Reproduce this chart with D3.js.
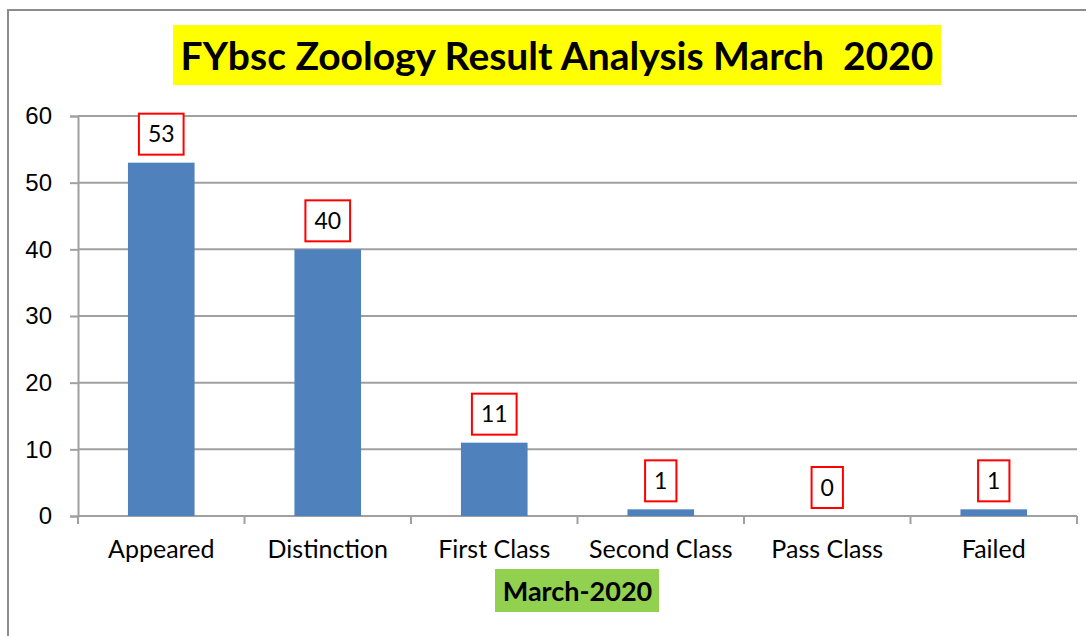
<!DOCTYPE html>
<html>
<head>
<meta charset="utf-8">
<script src="https://cdn.jsdelivr.net/npm/d3@7"></script>
<style>
  body { margin: 0; background: #fff; }
  svg { display: block; font-family: Lato, "Open Sans", sans-serif; }
</style>
</head>
<body>
<svg id="chart" width="1086" height="636"></svg>
<script>
// chart data
const categories = ["Appeared", "Distinction", "First Class", "Second Class", "Pass Class", "Failed"];
const counts = [53, 40, 11, 1, 0, 1];
const yTicks = [0, 10, 20, 30, 40, 50, 60];
const chartTitle = "FYbsc Zoology Result Analysis March\u00a0 2020";
const xTitle = "March-2020";

const data = categories.map((c, i) => ({ cat: c, value: counts[i] }));

const svg = d3.select("#chart");
const plot = { left: 78, right: 1077, top: 116, bottom: 516 };

// outer chart border (left and top edges visible)
svg.append("path")
  .attr("d", "M8,636 L8,10 L1086,10")
  .attr("fill", "none")
  .attr("stroke", "#8c8c8c")
  .attr("stroke-width", 2);

const x = d3.scaleBand()
  .domain(categories)
  .range([plot.left, plot.right])
  .paddingInner(0.6)
  .paddingOuter(0.3);

const y = d3.scaleLinear()
  .domain([0, 60])
  .range([plot.bottom, plot.top]);

// gridlines
svg.append("g")
  .selectAll("line")
  .data(yTicks.filter(d => d > 0))
  .join("line")
  .attr("x1", plot.left)
  .attr("x2", plot.right)
  .attr("y1", d => y(d))
  .attr("y2", d => y(d))
  .attr("stroke", "#a0a0a0")
  .attr("stroke-width", 2);

// y axis
const yAxis = svg.append("g")
  .attr("transform", `translate(${plot.left},0)`)
  .call(d3.axisLeft(y).tickValues(yTicks).tickSize(8).tickPadding(18));
yAxis.select(".domain").attr("stroke", "#a0a0a0").attr("stroke-width", 2);
yAxis.selectAll(".tick line").attr("stroke", "#a0a0a0").attr("stroke-width", 2);
yAxis.selectAll(".tick text")
  .attr("fill", "#000")
  .style("font-size", "24px");

// x axis line and tick marks between categories
const step = x.step();
const bounds = categories.map(c => x(c) - step * x.paddingOuter());
bounds.push(plot.right);

svg.append("line")
  .attr("x1", plot.left)
  .attr("x2", plot.right)
  .attr("y1", y(0))
  .attr("y2", y(0))
  .attr("stroke", "#a0a0a0")
  .attr("stroke-width", 2);

svg.append("g")
  .selectAll("line")
  .data(bounds)
  .join("line")
  .attr("x1", d => d)
  .attr("x2", d => d)
  .attr("y1", y(0))
  .attr("y2", y(0) + 8)
  .attr("stroke", "#a0a0a0")
  .attr("stroke-width", 2);

// category labels
svg.append("g")
  .selectAll("text")
  .data(categories)
  .join("text")
  .attr("x", d => x(d) + x.bandwidth() / 2)
  .attr("y", 558)
  .attr("text-anchor", "middle")
  .style("font-size", "25px")
  .text(d => d);

// bars
svg.append("g")
  .selectAll("rect")
  .data(data)
  .join("rect")
  .attr("x", d => x(d.cat))
  .attr("y", d => y(d.value))
  .attr("width", x.bandwidth())
  .attr("height", d => y(0) - y(d.value))
  .attr("fill", "#4f81bd");

// value labels in red boxes
const labels = svg.append("g")
  .selectAll("g")
  .data(data)
  .join("g")
  .attr("transform", d => `translate(${x(d.cat) + x.bandwidth() / 2},${y(d.value) - 8})`);

labels.append("rect").attr("class", "box");
labels.append("text")
  .attr("text-anchor", "middle")
  .attr("y", -20.5)
  .attr("dy", "0.36em")
  .style("font-size", "23px")
  .text(d => d.value);

labels.each(function() {
  const g = d3.select(this);
  const w = g.select("text").node().getComputedTextLength() + 18;
  g.select("rect")
    .attr("x", -w / 2)
    .attr("y", -41)
    .attr("width", w)
    .attr("height", 41)
    .attr("fill", "#fff")
    .attr("stroke", "#ff0000")
    .attr("stroke-width", 2);
});

// chart title
svg.append("rect")
  .attr("x", 173).attr("y", 25)
  .attr("width", 768).attr("height", 60)
  .attr("fill", "#ffff00");
svg.append("text")
  .attr("x", 557).attr("y", 70)
  .attr("text-anchor", "middle")
  .style("font-size", "39px")
  .style("font-weight", "bold")
  .text(chartTitle);

// axis title
svg.append("rect")
  .attr("x", 495).attr("y", 569)
  .attr("width", 164).attr("height", 43)
  .attr("fill", "#92d050");
svg.append("text")
  .attr("x", (plot.left + plot.right) / 2).attr("y", 601)
  .attr("text-anchor", "middle")
  .style("font-size", "27px")
  .style("font-weight", "bold")
  .text(xTitle);
</script>
</body>
</html>
